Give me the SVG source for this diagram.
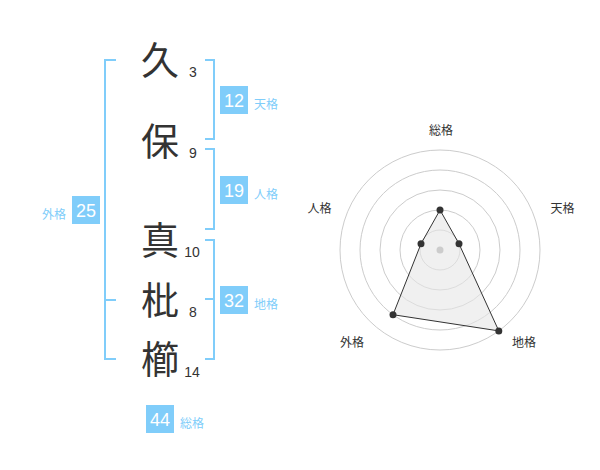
<svg xmlns="http://www.w3.org/2000/svg" width="600" height="470" viewBox="0 0 600 470">
<style>
.kanji{font-family:"Noto Sans CJK JP","Noto Sans CJK SC",sans-serif;font-size:38px;fill:#333;text-anchor:middle}
.num{font-family:"Liberation Sans",Arial,sans-serif;font-size:14px;fill:#333;text-anchor:middle}
.box{fill:#80cdfa}
.boxnum{font-family:"Liberation Sans",Arial,sans-serif;font-size:18px;fill:#fff;text-anchor:middle}
.lbl{font-family:"Noto Sans CJK JP","Noto Sans CJK SC",sans-serif;font-size:12px;fill:#80cdfa}
.br{fill:none;stroke:#80cdfa;stroke-width:2}
.ring{fill:none;stroke:#cccccc;stroke-width:1}
.rl{font-family:"Noto Sans CJK JP","Noto Sans CJK SC",sans-serif;font-size:12px;fill:#333;text-anchor:middle}
.dot{fill:#333}
</style>
<rect width="600" height="470" fill="#fff"/>
<g id="chars">
<g id="c1"><text class="kanji" x="160" y="74">久</text><text class="num" x="193" y="77">3</text></g>
<g id="c2"><text class="kanji" x="160" y="155">保</text><text class="num" x="193" y="158">9</text></g>
<g id="c3"><text class="kanji" x="160" y="254">真</text><text class="num" x="192" y="257">10</text></g>
<g id="c4"><text class="kanji" x="160" y="314">枇</text><text class="num" x="193" y="317">8</text></g>
<g id="c5"><text class="kanji" x="160" y="373">櫛</text><text class="num" x="192" y="377">14</text></g>
</g>
<g id="connectors">
<path class="br" d="M116,60 H105 V359 H116 M105,300 H116"/>
<path class="br" d="M205,60 H214 V139 H205"/>
<path class="br" d="M205,149 H214 V229 H205"/>
<path class="br" d="M205,240 H214 V359 H205 M205,299 H214"/>
</g>
<g id="tenkaku"><rect class="box" x="220" y="86" width="28" height="28"/><text class="boxnum" x="234" y="107">12</text><text class="lbl" x="254" y="109">天格</text></g>
<g id="jinkaku"><rect class="box" x="220" y="176" width="28" height="28"/><text class="boxnum" x="234" y="197">19</text><text class="lbl" x="254" y="199">人格</text></g>
<g id="chikaku"><rect class="box" x="220" y="286" width="28" height="28"/><text class="boxnum" x="234" y="307">32</text><text class="lbl" x="254" y="309">地格</text></g>
<g id="gaikaku"><rect class="box" x="72" y="196" width="28" height="28"/><text class="boxnum" x="86" y="217">25</text><text class="lbl" x="66" y="219" text-anchor="end">外格</text></g>
<g id="soukaku"><rect class="box" x="146" y="405" width="28" height="28"/><text class="boxnum" x="160" y="426">44</text><text class="lbl" x="180" y="428">総格</text></g>
<g id="radar">
<circle class="ring" cx="440" cy="250" r="20"/>
<circle class="ring" cx="440" cy="250" r="40"/>
<circle class="ring" cx="440" cy="250" r="60"/>
<circle class="ring" cx="440" cy="250" r="80"/>
<circle class="ring" cx="440" cy="250" r="100"/>
<polygon points="440,210 459,243.8 498.8,330.9 393,314.7 421,243.8" fill="#e6e6e6" fill-opacity="0.6" stroke="#333" stroke-width="1"/>
<circle cx="440" cy="250" r="3.5" fill="#cccccc"/>
<circle class="dot" cx="440" cy="210" r="3.5"/>
<circle class="dot" cx="459" cy="243.8" r="3.5"/>
<circle class="dot" cx="498.8" cy="330.9" r="3.5"/>
<circle class="dot" cx="393" cy="314.7" r="3.5"/>
<circle class="dot" cx="421" cy="243.8" r="3.5"/>
<text class="rl" x="441" y="135">総格</text>
<text class="rl" x="562.5" y="213">天格</text>
<text class="rl" x="319.5" y="213">人格</text>
<text class="rl" x="352" y="346.5">外格</text>
<text class="rl" x="524" y="346.5">地格</text>
</g>
</svg>
